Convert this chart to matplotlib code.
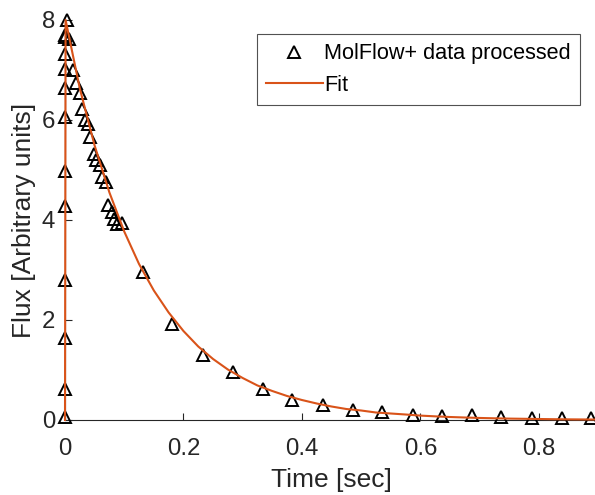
import matplotlib
matplotlib.use("Agg")
import matplotlib.pyplot as plt

# --- data ---
# MolFlow+ processed data: rising part (t ~ 0) followed by the decay
t_data = [0.0, 0.0, 0.0, 0.0, 0.0, 0.0, 0.0, 0.0, 0.0, 0.0, 0.0, 0.0,
          0.003, 0.007, 0.014, 0.018, 0.025, 0.028, 0.033, 0.038, 0.042,
          0.049, 0.053, 0.059, 0.062, 0.069, 0.073, 0.079, 0.083, 0.088,
          0.097, 0.132, 0.181, 0.233, 0.283, 0.334, 0.384, 0.435, 0.486,
          0.536, 0.587, 0.636, 0.688, 0.737, 0.788, 0.839, 0.889]
y_data = [0.07, 0.63, 1.65, 2.80, 4.28, 4.99, 6.07, 6.65, 7.03, 7.33, 7.67, 7.70,
          8.00, 7.63, 7.00, 6.75, 6.55, 6.23, 6.00, 5.93, 5.67,
          5.33, 5.20, 5.10, 4.87, 4.77, 4.30, 4.17, 4.03, 3.92,
          3.94, 2.97, 1.93, 1.30, 0.97, 0.63, 0.41, 0.30, 0.20,
          0.17, 0.10, 0.08, 0.11, 0.07, 0.05, 0.05, 0.05]

# Fit curve
t_fit = [0.0, 0.001, 0.025, 0.05, 0.075, 0.1, 0.125, 0.15, 0.175, 0.2, 0.225,
         0.25, 0.275, 0.3, 0.325, 0.35, 0.375, 0.4, 0.425, 0.45, 0.475, 0.5,
         0.525, 0.55, 0.575, 0.6, 0.625, 0.65, 0.675, 0.7, 0.725, 0.75, 0.775,
         0.8, 0.825, 0.85, 0.875, 0.9]
y_fit = [0.0, 8.0, 6.63, 5.49, 4.55, 3.77, 3.12, 2.59, 2.15, 1.78, 1.47,
         1.22, 1.01, 0.84, 0.69, 0.58, 0.48, 0.40, 0.33, 0.27, 0.22, 0.19,
         0.15, 0.13, 0.11, 0.088, 0.073, 0.060, 0.050, 0.041, 0.034, 0.028, 0.024,
         0.020, 0.016, 0.013, 0.011, 0.009]

x_ticks = [0, 0.2, 0.4, 0.6, 0.8]
x_ticklabels = ["0", "0.2", "0.4", "0.6", "0.8"]
y_ticks = [0, 2, 4, 6, 8]
y_ticklabels = ["0", "2", "4", "6", "8"]

plt.rcParams['font.family'] = ['Liberation Sans', 'DejaVu Sans']
AX = '#262626'
ORANGE = '#D95319'

fig = plt.figure(figsize=(5.95, 4.95), dpi=100)
ax = fig.add_axes([65/595, 75/495, (598-65)/595, (420-20)/495])

ax.plot(t_data, y_data, linestyle='none', marker='^', markersize=9,
        markerfacecolor='none', markeredgecolor='black', markeredgewidth=1.4,
        label='MolFlow+ data processed', zorder=3, clip_on=False)
ax.plot(t_fit, y_fit, color=ORANGE, linewidth=1.5, label='Fit', zorder=4,
        clip_on=False)

ax.set_xlim(0, 0.9)
ax.set_ylim(0, 8)
ax.set_xticks(x_ticks)
ax.set_xticklabels(x_ticklabels)
ax.set_yticks(y_ticks)
ax.set_yticklabels(y_ticklabels)

for s in ['top', 'right']:
    ax.spines[s].set_visible(False)
for s in ['left', 'bottom']:
    ax.spines[s].set_color(AX)
    ax.spines[s].set_linewidth(0.8)

ax.tick_params(axis='both', direction='in', length=5, width=0.8,
               colors=AX, labelsize=17.3)
ax.tick_params(axis='x', pad=13)
ax.tick_params(axis='y', pad=7)

ax.set_xlabel('Time [sec]', fontsize=19, color=AX, labelpad=6)
ax.set_ylabel('Flux [Arbitrary units]', fontsize=19, color=AX, labelpad=4)

leg = ax.legend(loc='upper right', bbox_to_anchor=(580/595, 1 - 34/495),
                bbox_transform=fig.transFigure, borderaxespad=0,
                fontsize=15.6, frameon=True, fancybox=False,
                handlelength=2.6, handletextpad=0.08, labelspacing=0.5,
                borderpad=0.42)
leg.get_frame().set_edgecolor(AX)
leg.get_frame().set_linewidth(0.8)
for txt in leg.get_texts():
    txt.set_color('black')

fig.savefig('out.png', dpi=100)
